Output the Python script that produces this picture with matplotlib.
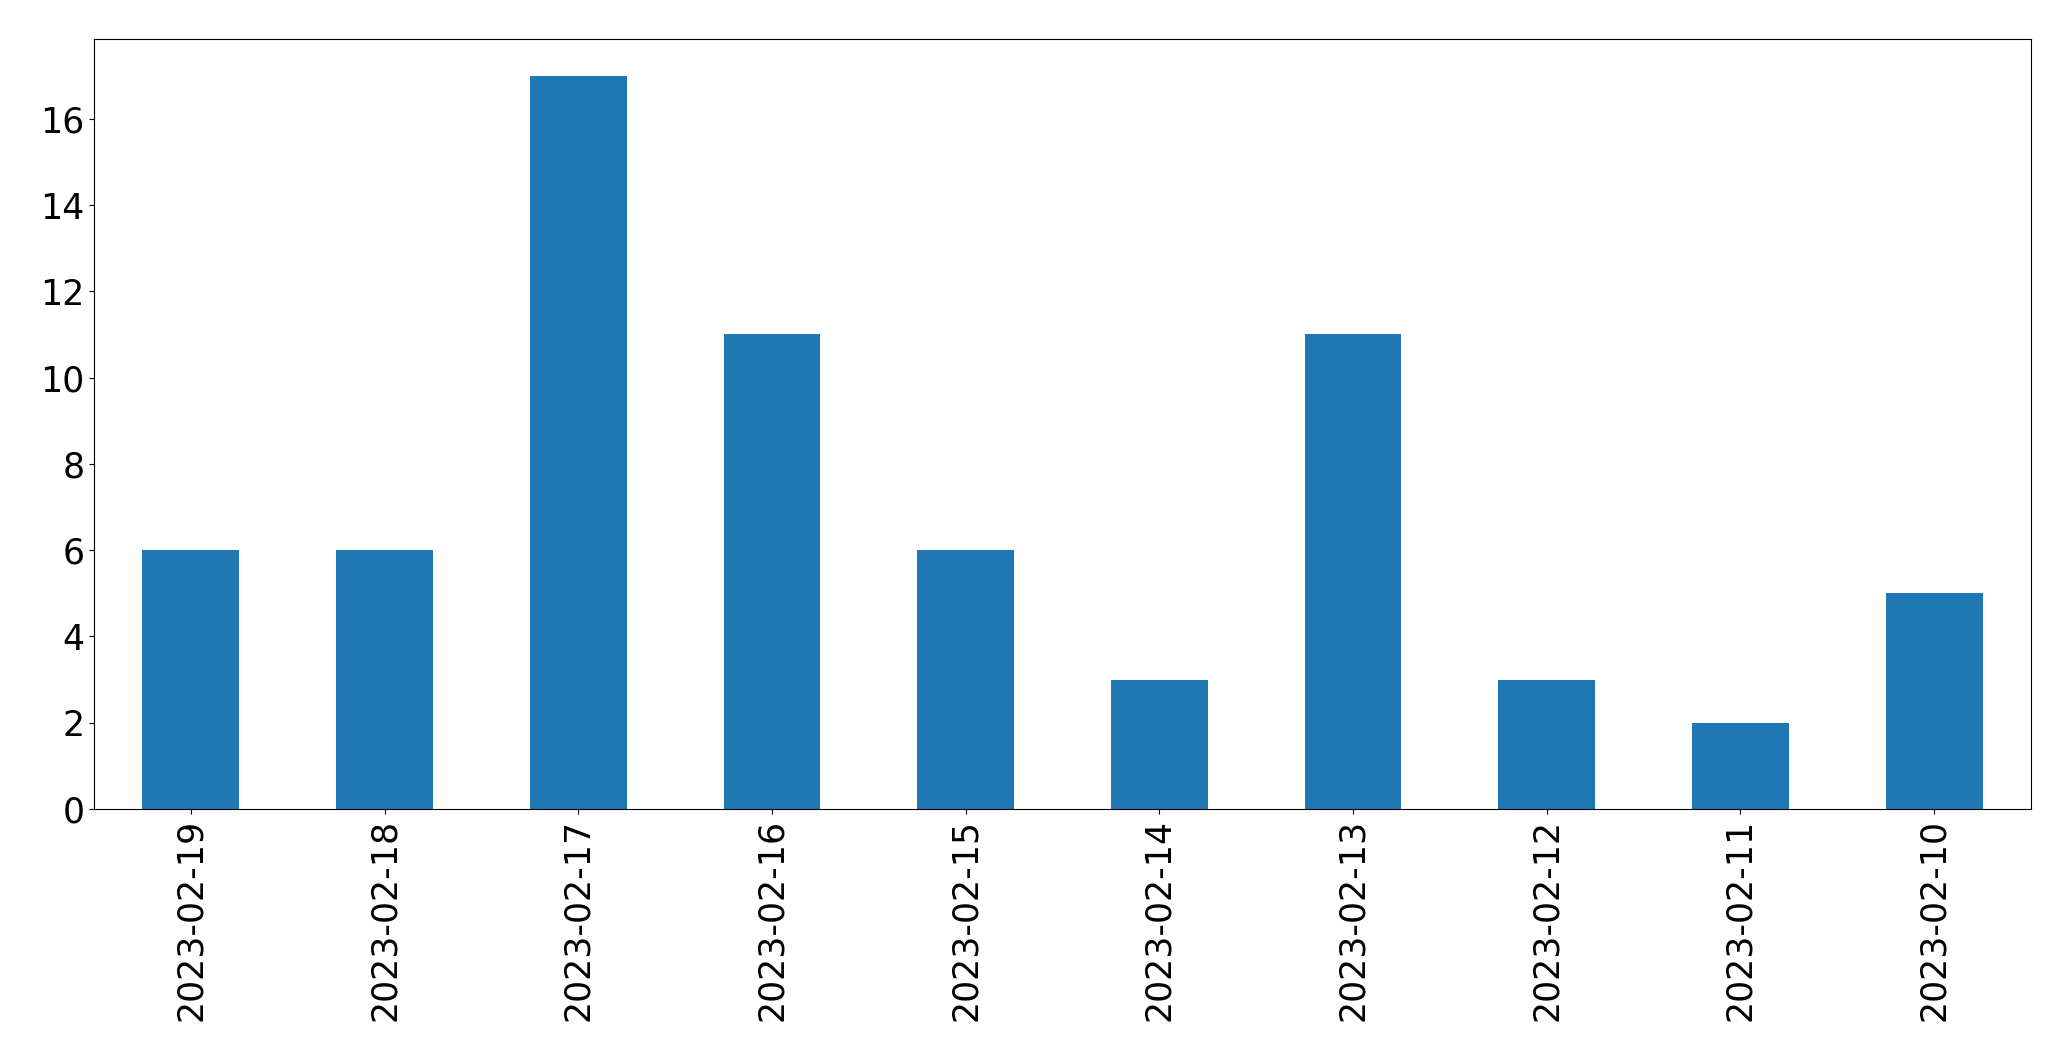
import matplotlib
matplotlib.use("Agg")
import matplotlib.pyplot as plt

dates = ["2023-02-19", "2023-02-18", "2023-02-17", "2023-02-16", "2023-02-15",
         "2023-02-14", "2023-02-13", "2023-02-12", "2023-02-11", "2023-02-10"]
counts = [6, 6, 17, 11, 6, 3, 11, 3, 2, 5]

fig, ax = plt.subplots(figsize=(20.71, 10.61), dpi=100)
fig.subplots_adjust(left=94 / 2071, right=2031 / 2071, top=1 - 39 / 1061, bottom=1 - 809 / 1061)

pos = range(len(dates))
ax.bar(pos, counts, width=0.5, color="#1f77b4")
ax.set_xlim(-0.5, len(dates) - 0.5)
ax.set_xticks(list(pos))
ax.set_xticklabels(dates, rotation=90)
ax.tick_params(labelsize=25)

fig.savefig("out.png", dpi=100)
